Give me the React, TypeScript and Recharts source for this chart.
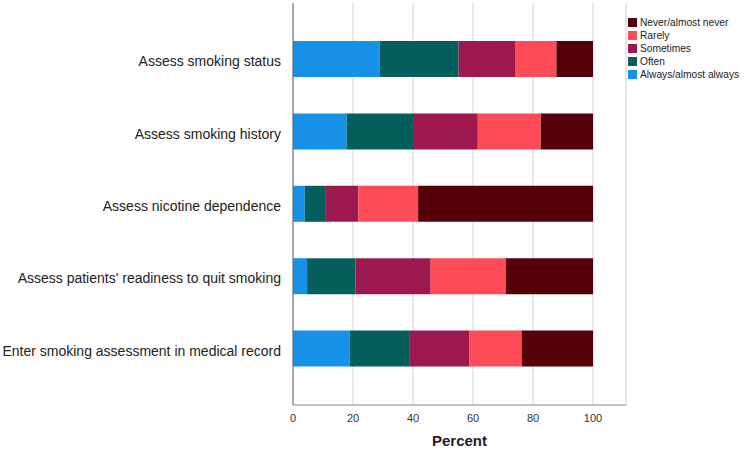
import { BarChart, Bar, XAxis, YAxis, CartesianGrid } from 'recharts'

const categories = [
  'Assess smoking status',
  'Assess smoking history',
  'Assess nicotine dependence',
  "Assess patients' readiness to quit smoking",
  'Enter smoking assessment in medical record',
]
const always = [28.9, 17.9, 3.9, 4.7, 18.9]
const often = [26.3, 22.1, 6.8, 16.1, 19.8]
const sometimes = [18.8, 21.6, 11.1, 25.1, 20.0]
const rarely = [13.8, 21.0, 19.9, 25.0, 17.5]
const never = [12.2, 17.4, 58.3, 29.1, 23.8]
const xTicks = [0, 20, 40, 60, 80, 100]

const series = [
  { key: 'always', name: 'Always/almost always', color: '#1592e8' },
  { key: 'often', name: 'Often', color: '#045e5c' },
  { key: 'sometimes', name: 'Sometimes', color: '#9e1850' },
  { key: 'rarely', name: 'Rarely', color: '#fd4c58' },
  { key: 'never', name: 'Never/almost never', color: '#560009' },
]

const data = categories.map((name, i) => ({
  name,
  always: always[i],
  often: often[i],
  sometimes: sometimes[i],
  rarely: rarely[i],
  never: never[i],
}))

const font = '"Liberation Sans", Arial, sans-serif'

function LegendBox() {
  return (
    <div style={{ position: 'absolute', left: 628, top: 16, fontFamily: font, fontSize: 10.2, color: '#222', whiteSpace: 'nowrap' }}>
      {[...series].reverse().map(s => (
        <div key={s.key} style={{ display: 'flex', alignItems: 'center', height: 13 }}>
          <span style={{ width: 9, height: 9, background: s.color, marginRight: 3, display: 'inline-block', flexShrink: 0 }} />
          <span>{s.name}</span>
        </div>
      ))}
    </div>
  )
}

export default function App() {
  return (
    <div style={{ position: 'absolute', left: 0, top: 0, width: 744, height: 452, background: '#fff' }}>
      <BarChart width={744} height={452} data={data} layout="vertical" margin={{ top: 3, right: 118, bottom: 0, left: 0 }}>
        <CartesianGrid horizontal={false} stroke="#d2d2d2" strokeWidth={1} />
        <XAxis
          type="number"
          domain={[0, 111]}
          ticks={xTicks}
          tickLine={false}
          tickMargin={3}
          height={47}
          axisLine={{ stroke: '#888' }}
          tick={{ fontSize: 11, fill: '#333', fontFamily: font }}
          label={{ value: 'Percent', position: 'insideBottom', offset: 6, style: { fontSize: 15, fontWeight: 700, fill: '#222', fontFamily: font } }}
        />
        <YAxis
          type="category"
          dataKey="name"
          width={293}
          tickLine={false}
          tickMargin={6}
          padding={{ top: 20, bottom: 20 }}
          axisLine={{ stroke: '#666' }}
          tick={{ fontSize: 14, fill: '#222', fontFamily: font, dy: 2 }}
          interval={0}
        />
        {series.map(s => (
          <Bar key={s.key} dataKey={s.key} name={s.name} stackId="a" fill={s.color} barSize={36} isAnimationActive={false} />
        ))}
      </BarChart>
      <LegendBox />
    </div>
  )
}
